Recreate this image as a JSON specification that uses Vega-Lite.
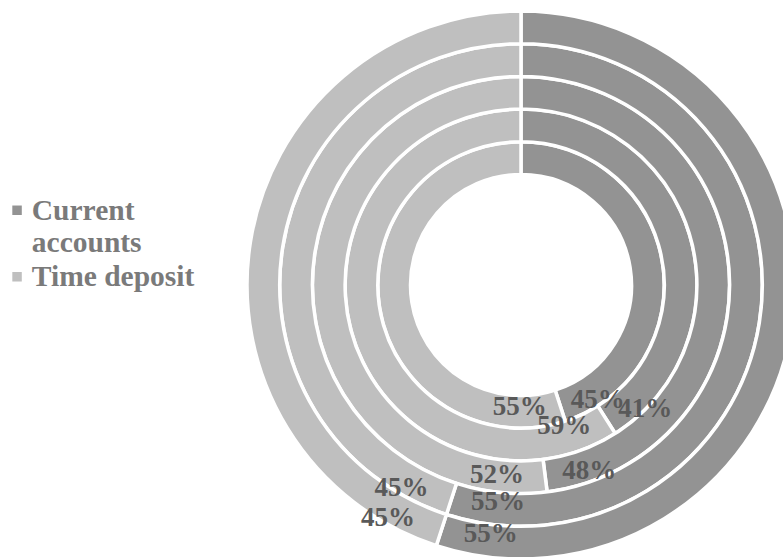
{
  "$schema": "https://vega.github.io/schema/vega-lite/v6.json",
  "width": 524,
  "height": 544,
  "autosize": {"type": "none"},
  "padding": {"left": 259, "top": 13, "right": 0, "bottom": 0},
  "background": "white",
  "data": {
    "values": [
      {"ring": 1, "series": "Current accounts", "value": 0.45},
      {"ring": 1, "series": "Time deposit", "value": 0.55},
      {"ring": 2, "series": "Current accounts", "value": 0.41},
      {"ring": 2, "series": "Time deposit", "value": 0.59},
      {"ring": 3, "series": "Current accounts", "value": 0.48},
      {"ring": 3, "series": "Time deposit", "value": 0.52},
      {"ring": 4, "series": "Current accounts", "value": 0.55},
      {"ring": 4, "series": "Time deposit", "value": 0.45},
      {"ring": 5, "series": "Current accounts", "value": 0.55},
      {"ring": 5, "series": "Time deposit", "value": 0.45}
    ]
  },
  "transform": [
    {"stack": "value", "groupby": ["ring"], "sort": [{"field": "series", "order": "ascending"}], "as": ["v0", "v1"]},
    {"calculate": "datum.ring - 1", "as": "ringIn"}
  ],
  "layer": [
    {
      "mark": {"type": "arc", "stroke": "white", "strokeWidth": 3.5},
      "encoding": {
        "theta": {"field": "v0", "type": "quantitative", "scale": {"domain": [0, 1]}},
        "theta2": {"field": "v1"},
        "radius": {"field": "ring", "type": "quantitative", "scale": {"type": "linear", "domain": [0, 5], "range": [110.5, 274], "zero": false}},
        "radius2": {"field": "ringIn"},
        "color": {
          "field": "series",
          "type": "nominal",
          "scale": {"domain": ["Current accounts", "Time deposit"], "range": ["#939393", "#BFBFBF"]},
          "legend": {
            "title": null,
            "orient": "none",
            "legendX": -256.7,
            "legendY": 192,
            "padding": 0,
            "symbolType": "M-1,-3H1V-1H-1Z",
            "symbolSize": 90,
            "symbolStrokeWidth": 0,
            "labelFont": "Liberation Serif",
            "labelFontWeight": "bold",
            "labelFontSize": 29.5,
            "labelColor": "#7A7A7A",
            "labelBaseline": "alphabetic",
            "labelOffset": 0,
            "labelLimit": 400,
            "rowPadding": 3.5,
            "labelExpr": "datum.label == 'Current accounts' ? ['Current', 'accounts'] : datum.label"
          }
        }
      }
    },
    {
      "transform": [{"filter": "datum.series == 'Current accounts'"}],
      "mark": {"type": "text", "align": "left", "baseline": "middle", "dx": 0, "dy": -2, "thetaOffset": -0.09, "radiusOffset": -16.4, "font": "Liberation Serif", "fontWeight": "bold", "fontSize": 27, "fill": "#595959"},
      "encoding": {
        "theta": {"field": "v1", "type": "quantitative"},
        "radius": {"field": "ring", "type": "quantitative"},
        "text": {"field": "value", "type": "quantitative", "format": ".0%"}
      }
    },
    {
      "transform": [{"filter": "datum.series == 'Time deposit'"}],
      "mark": {"type": "text", "align": "right", "baseline": "middle", "dx": 0, "dy": -2, "thetaOffset": 0.11, "radiusOffset": -16.4, "font": "Liberation Serif", "fontWeight": "bold", "fontSize": 27, "fill": "#595959"},
      "encoding": {
        "theta": {"field": "v0", "type": "quantitative"},
        "radius": {"field": "ring", "type": "quantitative"},
        "text": {"field": "value", "type": "quantitative", "format": ".0%"}
      }
    }
  ],
  "config": {
    "view": {"stroke": null},
    "style": {"guide-label": {"lineHeight": 32}}
  }
}
